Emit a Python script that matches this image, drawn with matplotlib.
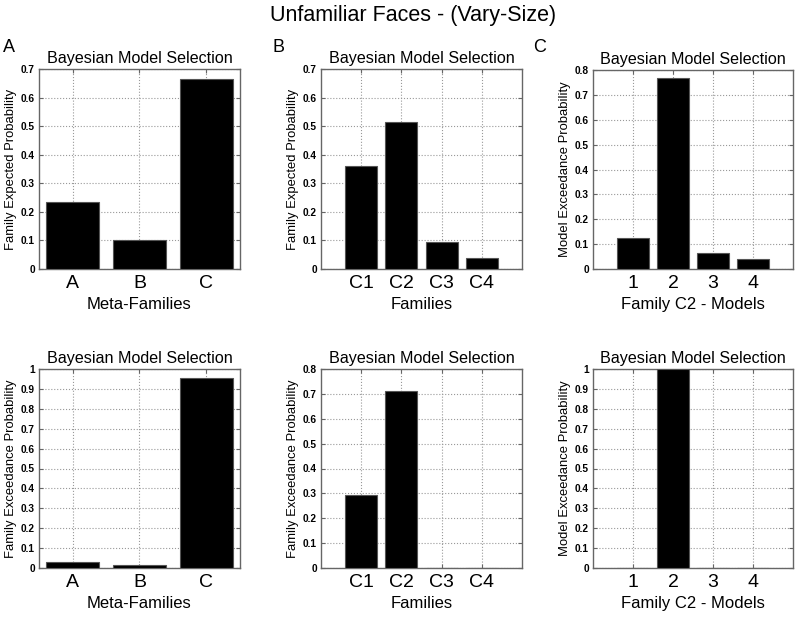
import matplotlib.pyplot as plt
import numpy as np

plt.rcParams['font.family'] = ['Liberation Sans', 'DejaVu Sans']

# ---- data ----
meta_families = ['A', 'B', 'C']
families = ['C1', 'C2', 'C3', 'C4']
models = ['1', '2', '3', '4']

meta_expected = [0.233, 0.103, 0.665]
fam_expected = [0.359, 0.516, 0.093, 0.037]
model_exceed_top = [0.123, 0.766, 0.064, 0.042]

meta_exceed = [0.032, 0.013, 0.956]
fam_exceed = [0.293, 0.711, 0.002, 0.0]
model_exceed_bot = [0.002, 1.0, 0.002, 0.0]

fig = plt.figure(figsize=(7.97, 6.17), dpi=100)
W, H = 797, 617

def px_axes(left, top, right, bottom):
    return fig.add_axes([left / W, 1 - bottom / H, (right - left) / W, (bottom - top) / H])

def bar_panel(ax, labels, vals, ymax, xlim, ylabel, xlabel):
    x = np.arange(1, len(vals) + 1)
    ax.bar(x, vals, width=0.8, color='black', edgecolor='#555555', linewidth=0.8, zorder=3)
    ax.set_xlim(*xlim)
    ax.set_ylim(0, ymax)
    yt = np.round(np.arange(0, ymax + 0.001, 0.1), 1)
    ax.set_yticks(yt)
    ax.set_yticklabels(['%g' % t for t in yt], fontsize=7.3, fontweight='bold')
    ax.set_xticks(x)
    ax.set_xticklabels(labels, fontsize=14)
    ax.grid(True, linestyle=':', color='#999999', linewidth=0.8, zorder=0)
    ax.tick_params(direction='in', length=3, top=True, right=True, color='#666666', pad=3)
    ax.tick_params(axis='x', pad=4)
    for s in ax.spines.values():
        s.set_color('#666666')
        s.set_linewidth(1.0)
    ax.set_title('Bayesian Model Selection', fontsize=11.6, pad=4)
    ax.set_ylabel(ylabel, fontsize=9.4, labelpad=3)
    ax.set_xlabel(xlabel, fontsize=12, labelpad=4)

# top row
ax = px_axes(39, 69, 240, 269)
bar_panel(ax, meta_families, meta_expected, 0.7, (0.5, 3.5),
          'Family Expected Probability', 'Meta-Families')
ax = px_axes(321, 69, 522, 269)
bar_panel(ax, families, fam_expected, 0.7, (0, 5),
          'Family Expected Probability', 'Families')
ax = px_axes(593, 70, 793, 269)
bar_panel(ax, models, model_exceed_top, 0.8, (0, 5),
          'Model Exceedance Probability', 'Family C2 - Models')

# bottom row
ax = px_axes(39, 369, 240, 568)
bar_panel(ax, meta_families, meta_exceed, 1.0, (0.5, 3.5),
          'Family Exceedance Probability', 'Meta-Families')
ax = px_axes(321, 369, 522, 568)
bar_panel(ax, families, fam_exceed, 0.8, (0, 5),
          'Family Exceedance Probability', 'Families')
ax = px_axes(593, 369, 793, 568)
bar_panel(ax, models, model_exceed_bot, 1.0, (0, 5),
          'Model Exceedance Probability', 'Family C2 - Models')

# panel letters and main title
for letter, xp in zip(['A', 'B', 'C'], [3, 273, 533]):
    fig.text(xp / W, 1 - 47 / H, letter, fontsize=13, va='center', ha='left')
fig.text(413 / W, 1 - 15 / H, 'Unfamiliar Faces - (Vary-Size)', fontsize=15.5, ha='center', va='center')

fig.savefig('out.png', dpi=100)
